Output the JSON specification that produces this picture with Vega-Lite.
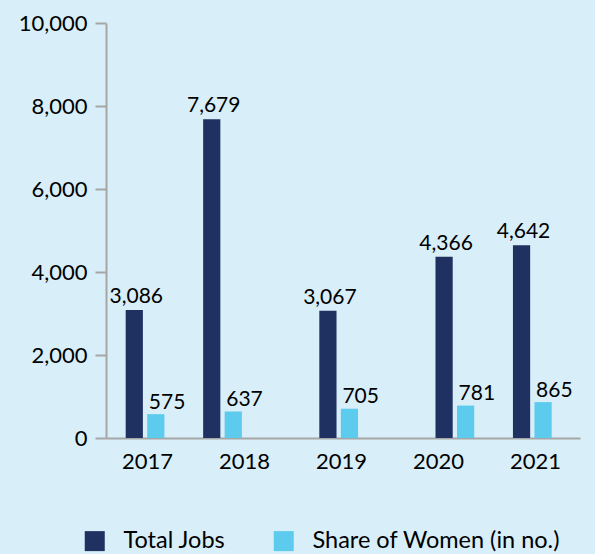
{
  "$schema": "https://vega.github.io/schema/vega-lite/v6.json",
  "width": 474,
  "height": 415,
  "autosize": "none",
  "padding": {"left": 106, "top": 23, "right": 15, "bottom": 116},
  "background": "#d8eef8",
  "config": {
    "view": {"stroke": null},
    "font": "Lato",
    "text": {"font": "Lato"}
  },
  "data": {
    "values": [
      {"year": "2017", "series": "Total Jobs", "value": 3086},
      {"year": "2018", "series": "Total Jobs", "value": 7679},
      {"year": "2019", "series": "Total Jobs", "value": 3067},
      {"year": "2020", "series": "Total Jobs", "value": 4366},
      {"year": "2021", "series": "Total Jobs", "value": 4642},
      {"year": "2017", "series": "Share of Women (in no.)", "value": 575},
      {"year": "2018", "series": "Share of Women (in no.)", "value": 637},
      {"year": "2019", "series": "Share of Women (in no.)", "value": 705},
      {"year": "2020", "series": "Share of Women (in no.)", "value": 781},
      {"year": "2021", "series": "Share of Women (in no.)", "value": 865}
    ]
  },
  "layer": [
    {
      "encoding": {
        "x": {
          "field": "year",
          "type": "nominal",
          "scale": {
            "domain": ["2017", "g1", "2018", "g2", "g3", "2019", "g4", "g5", "2020", "g6", "2021"],
            "paddingInner": 0,
            "paddingOuter": 0.62,
            "align": 0.41
          },
          "axis": null
        },
        "xOffset": {
          "field": "series",
          "type": "nominal",
          "scale": {"domain": ["Total Jobs", "Share of Women (in no.)"], "paddingInner": 0.2, "paddingOuter": 0}
        },
        "y": {
          "field": "value",
          "type": "quantitative",
          "scale": {"domain": [0, 10000], "nice": false},
          "axis": {
            "values": [0, 2000, 4000, 6000, 8000, 10000],
            "format": ",d",
            "title": null,
            "grid": false,
            "domainColor": "#a6a6a6",
            "domainWidth": 2,
            "tickColor": "#a6a6a6",
            "tickWidth": 2,
            "tickSize": 11,
            "labelFont": "Lato",
            "labelFontSize": 22,
            "labelColor": "#000000",
            "labelPadding": 8
          }
        }
      },
      "layer": [
        {
          "mark": {"type": "bar"},
          "encoding": {
            "color": {
              "field": "series",
              "type": "nominal",
              "scale": {"domain": ["Total Jobs", "Share of Women (in no.)"], "range": ["#1e3160", "#5ccbee"]},
              "legend": {
                "orient": "none",
                "legendX": -23,
                "legendY": 506,
                "direction": "horizontal",
                "title": null,
                "padding": 0,
                "symbolType": "square",
                "symbolSize": 400,
                "symbolStrokeWidth": 0,
                "symbolOpacity": 1,
                "labelFont": "Lato",
                "labelFontSize": 23.5,
                "labelColor": "#000000",
                "labelBaseline": "middle",
                "labelOffset": 17,
                "labelLimit": 0,
                "columnPadding": 46
              }
            }
          }
        },
        {
          "transform": [{"filter": "datum.series === 'Total Jobs'"}],
          "mark": {"type": "text", "align": "center", "baseline": "alphabetic", "dy": -7, "dx": 2, "fontSize": 21, "font": "Lato", "color": "#000000"},
          "encoding": {"text": {"field": "value", "type": "quantitative", "format": ",d"}}
        },
        {
          "transform": [{"filter": "datum.series !== 'Total Jobs'"}],
          "mark": {"type": "text", "align": "left", "baseline": "alphabetic", "dy": -5.5, "dx": -7, "fontSize": 21, "font": "Lato", "color": "#000000"},
          "encoding": {"text": {"field": "value", "type": "quantitative", "format": ",d"}}
        }
      ]
    },
    {
      "transform": [{"filter": "datum.series === 'Total Jobs'"}],
      "mark": {"type": "point", "opacity": 0},
      "encoding": {
        "x": {
          "field": "year",
          "type": "nominal",
          "scale": {"type": "point", "padding": 0.443, "align": 0.477},
          "axis": {
            "orient": "bottom",
            "title": null,
            "labelAngle": 0,
            "ticks": false,
            "tickSize": 0,
            "domainColor": "#a6a6a6",
            "domainWidth": 2,
            "labelFont": "Lato",
            "labelFontSize": 22,
            "labelColor": "#000000",
            "labelPadding": 13
          }
        }
      }
    }
  ],
  "resolve": {"scale": {"x": "independent"}, "axis": {"x": "independent"}}
}
